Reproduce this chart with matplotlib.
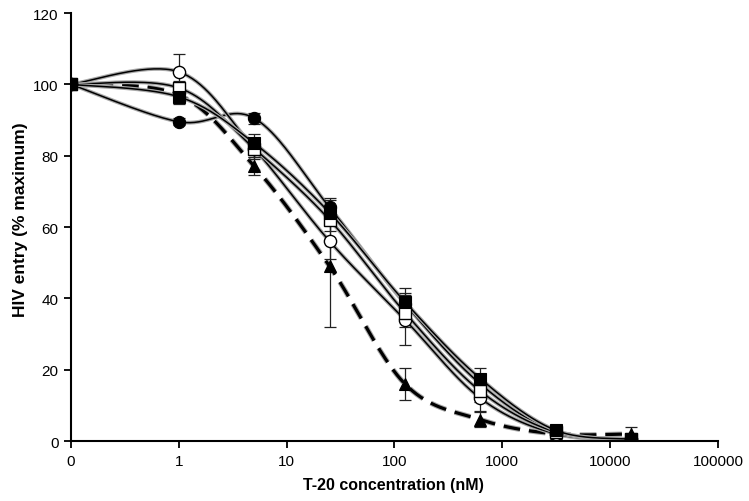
import numpy as np
import matplotlib
matplotlib.use("Agg")
import matplotlib.pyplot as plt
import matplotlib.patheffects as pe
from matplotlib import font_manager

# ---------------- data ----------------
conc = [0, 1, 5, 25, 125, 625, 3125, 15625]   # nM (0 drawn at 0.1 on log axis)
zero_pos = 0.1

filled_circle = [100, 89.5, 90.5, 65.5, 38.5, 16.0, 2.5, 0.5]
filled_circle_err = [0, 1.0, 1.5, 2.5, 3.0, 2.5, 1.0, 0.5]

open_circle = [100, 103.5, 82.0, 56.0, 34.0, 12.0, 2.0, 0.5]
open_circle_err = [0, 5.0, 3.0, 5.0, 7.0, 3.5, 1.0, 0.5]

open_square = [100, 99.0, 82.0, 62.0, 36.0, 14.0, 2.5, 0.5]
open_square_err = [0, 2.0, 2.5, 3.0, 4.0, 3.0, 1.0, 0.5]

filled_square = [100, 96.5, 83.5, 64.0, 39.0, 17.5, 3.0, 0.5]
filled_square_err = [0, 2.0, 2.5, 3.5, 4.0, 3.0, 1.0, 0.5]

filled_triangle = [100, 97.0, 77.0, 49.0, 16.0, 6.0, 2.0, 2.0]
filled_triangle_err = [0, 1.5, 2.5, 17.0, 4.5, 2.0, 1.0, 2.0]

x_ticks = [0.1, 1, 10, 100, 1000, 10000, 100000]
x_tick_labels = ["0", "1", "10", "100", "1000", "10000", "100000"]
y_ticks = [0, 20, 40, 60, 80, 100, 120]

# ---------------- helpers ----------------
def smooth(xs, ys, n=40):
    """Excel-like smoothing (uniform Catmull-Rom) in (log10 x, y) space."""
    u = np.log10(np.asarray(xs, float))
    v = np.asarray(ys, float)
    P = np.column_stack([u, v])
    P = np.vstack([P[0], P, P[-1]])
    out = []
    for i in range(1, len(P) - 2):
        p0, p1, p2, p3 = P[i - 1], P[i], P[i + 1], P[i + 2]
        c1 = p1 + (p2 - p0) / 6.0
        c2 = p2 - (p3 - p1) / 6.0
        t = np.linspace(0, 1, n)[:, None]
        seg = ((1 - t) ** 3) * p1 + 3 * ((1 - t) ** 2) * t * c1 + 3 * (1 - t) * t ** 2 * c2 + t ** 3 * p2
        out.append(seg if i == 1 else seg[1:])
    out = np.vstack(out)
    return 10 ** out[:, 0], out[:, 1]

families = [f.name for f in font_manager.fontManager.ttflist]
font = "Liberation Sans" if "Liberation Sans" in families else "DejaVu Sans"
plt.rcParams["font.family"] = [font, "DejaVu Sans"]

xpos = [zero_pos if c == 0 else c for c in conc]

fig = plt.figure(figsize=(7.49, 5.02), dpi=100)
ax = fig.add_axes([0.0948, 0.1195, 0.8638, 0.8526])

series = [
    (filled_triangle, filled_triangle_err, "^", "black", "--", 0),
    (filled_circle, filled_circle_err, "o", "black", "-", 1),
    (open_circle, open_circle_err, "o", "white", "-", 2),
    (open_square, open_square_err, "s", "white", "-", 3),
    (filled_square, filled_square_err, "s", "black", "-", 4),
]

halo = "#a8a8a8"
for ys, es, mk, fc, ls, k in series:
    sx, sy = smooth(xpos, ys)
    z = 2 + k * 0.1
    if ls == "-":
        ax.plot(sx, sy, color=halo, lw=2.8, solid_capstyle="round", zorder=z)
        ax.plot(sx, sy, color="black", lw=1.1, zorder=z + 0.05)
    else:
        ax.plot(sx, sy, color="black", lw=2.3, ls=(0, (5.2, 2.8)), zorder=z,
                path_effects=[pe.Stroke(linewidth=3.8, foreground=halo), pe.Normal()])
    ax.errorbar(xpos, ys, yerr=es, fmt="none", ecolor="#222222", elinewidth=0.9,
                capsize=4.0, capthick=0.9, zorder=4 + k * 0.1)
    ms = 8.5 if mk == "^" else (9.0 if mk == "s" else 8.8)
    ax.plot(xpos, ys, ls="none", marker=mk, ms=ms, mfc=fc, mec="black",
            mew=1.0 if fc == "white" else 0.8, zorder=5 + k * 0.1)

ax.set_xscale("log")
ax.set_xlim(0.1, 100000)
ax.set_ylim(0, 120)
ax.set_xticks(x_ticks)
ax.set_xticklabels(x_tick_labels)
ax.xaxis.set_minor_locator(matplotlib.ticker.NullLocator())
ax.set_yticks(y_ticks)

for s in ["top", "right"]:
    ax.spines[s].set_visible(False)
for s in ["left", "bottom"]:
    ax.spines[s].set_linewidth(1.5)
ax.tick_params(axis="both", direction="out", length=5, width=1.3, labelsize=11, pad=4)

ax.set_xlabel("T-20 concentration (nM)", fontsize=11.5, fontweight="bold")
ax.xaxis.set_label_coords(0.498, -0.083)
ax.set_ylabel("HIV entry (% maximum)", fontsize=12.5, fontweight="bold")
ax.yaxis.set_label_coords(-0.066, 0.52)

fig.savefig("out.png", dpi=100)
